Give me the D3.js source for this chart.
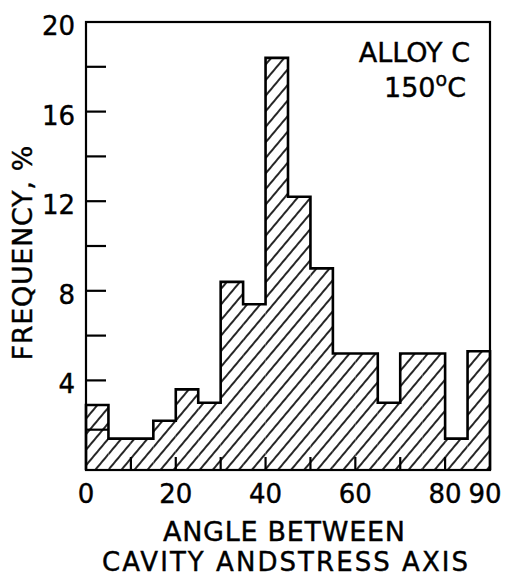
<!DOCTYPE html>
<html lang="en">
	<head>
		<meta charset="utf-8">
		<title> cavity angle histogram </title>
		<script src="https://d3js.org/d3.v7.min.js"></script>
		<style type="text/css">
			body { margin: 0; background: #fff; }
			text { font-family: "DejaVu Sans", sans-serif; fill: #000; stroke: #000; stroke-width: 0.4px; }
		</style>
	</head>

	<body>
		<script type="text/javascript">
			// window setup
			var w = 509
			var h = 579

			// data: 5 degree bins from 0 to 90
			var binStarts = [0, 5, 10, 15, 20, 25, 30, 35, 40, 45, 50, 55, 60, 65, 70, 75, 80, 85]
			var frequency = [2.9, 1.4, 1.4, 2.2, 3.6, 3.0, 8.4, 7.4, 18.4, 12.2, 9.0, 5.2, 5.2, 3.0, 5.2, 5.2, 1.4, 5.3]
			var innerSplit = [1.8, null, null, null, null, null, null, null, null, null, null, null, null, null, null, null, null, null]
			var binWidth = 5

			var yTicks = [2, 4, 6, 8, 10, 12, 14, 16, 18]
			var yLabels = [4, 8, 12, 16, 20]
			var xTicks = [10, 20, 30, 40, 50, 60, 70, 80]
			var xLabels = [0, 20, 40, 60, 80, 90]

			// scales
			var x = d3.scaleLinear().domain([0, 90]).range([86, 490])
			var y = d3.scaleLinear().domain([0, 20]).range([470, 22])

			var svg = d3.select("body")
						.append("svg")
						.attr("width", w)
						.attr("height", h)

			// hatch pattern, lines like "/"
			var defs = svg.append("defs")
			var pat = defs.append("pattern")
						.attr("id", "hatch")
						.attr("patternUnits", "userSpaceOnUse")
						.attr("width", 10)
						.attr("height", 10)
						.attr("patternTransform", "rotate(40)")
			pat.append("rect").attr("width", 10).attr("height", 10).attr("fill", "#fff")
			pat.append("line")
				.attr("x1", 5).attr("y1", -2).attr("x2", 5).attr("y2", 12)
				.attr("stroke", "#000")
				.attr("stroke-width", 1.7)

			// y ticks (inward, under the bars)
			svg.selectAll(".ytick")
				.data(yTicks)
				.enter()
				.append("line")
				.attr("x1", x(0)).attr("x2", x(0) + 20)
				.attr("y1", function(d) { return y(d) })
				.attr("y2", function(d) { return y(d) })
				.attr("stroke", "#000")
				.attr("stroke-width", 2.2)

			// bars filled with hatch
			svg.selectAll(".bar")
				.data(binStarts)
				.enter()
				.append("rect")
				.attr("x", function(d) { return x(d) })
				.attr("width", function(d) { return x(d + binWidth) - x(d) })
				.attr("y", function(d, i) { return y(frequency[i]) })
				.attr("height", function(d, i) { return y(0) - y(frequency[i]) })
				.attr("fill", "url(#hatch)")

			// outline as a step line
			var pts = [[0, 0]]
			binStarts.forEach(function(d, i) { pts.push([d, frequency[i]]) })
			pts.push([90, frequency[frequency.length - 1]])
			pts.push([90, 0])

			var step = d3.line()
						.x(function(d) { return x(d[0]) })
						.y(function(d) { return y(d[1]) })
						.curve(d3.curveStepAfter)

			svg.append("path")
				.attr("d", step(pts))
				.attr("fill", "none")
				.attr("stroke", "#000")
				.attr("stroke-width", 2.6)

			// split line inside first bin
			svg.selectAll(".split")
				.data(binStarts.filter(function(d, i) { return innerSplit[i] != null }))
				.enter()
				.append("line")
				.attr("x1", function(d) { return x(d) })
				.attr("x2", function(d) { return x(d + binWidth) })
				.attr("y1", function(d) { return y(innerSplit[binStarts.indexOf(d)]) })
				.attr("y2", function(d) { return y(innerSplit[binStarts.indexOf(d)]) })
				.attr("stroke", "#000")
				.attr("stroke-width", 2.2)

			// x ticks (upward, on top of hatch)
			svg.selectAll(".xtick")
				.data(xTicks)
				.enter()
				.append("line")
				.attr("x1", function(d) { return x(d) })
				.attr("x2", function(d) { return x(d) })
				.attr("y1", y(0)).attr("y2", y(0) - 13)
				.attr("stroke", "#000")
				.attr("stroke-width", 2.2)

			// frame
			svg.append("rect")
				.attr("x", x(0)).attr("y", y(20))
				.attr("width", x(90) - x(0))
				.attr("height", y(0) - y(20))
				.attr("fill", "none")
				.attr("stroke", "#000")
				.attr("stroke-width", 2.2)

			// tick labels
			svg.selectAll(".ylab")
				.data(yLabels)
				.enter()
				.append("text")
				.attr("x", 75)
				.attr("y", function(d) { return y(d) + 13 })
				.attr("text-anchor", "end")
				.style("font-size", "26px")
				.text(function(d) { return d })

			svg.selectAll(".xlab")
				.data(xLabels)
				.enter()
				.append("text")
				.attr("x", function(d) { return x(d) })
				.attr("dx", function(d) { return d == 90 ? -5 : 0 })
				.attr("y", 503)
				.attr("text-anchor", "middle")
				.style("font-size", "26px")
				.text(function(d) { return d })

			// axis titles
			svg.append("text")
				.attr("transform", "translate(32,253) rotate(-90)")
				.attr("text-anchor", "middle")
				.attr("textLength", 215)
				.attr("lengthAdjust", "spacing")
				.style("font-size", "27px")
				.text("FREQUENCY, %")

			svg.append("text")
				.attr("x", 284).attr("y", 541)
				.attr("text-anchor", "middle")
				.attr("textLength", 242)
				.attr("lengthAdjust", "spacing")
				.style("font-size", "27px")
				.text("ANGLE BETWEEN")

			svg.append("text")
				.attr("x", 285).attr("y", 571)
				.attr("text-anchor", "middle")
				.attr("textLength", 366)
				.attr("lengthAdjust", "spacing")
				.style("font-size", "26px")
				.text("CAVITY ANDSTRESS AXIS")

			// annotation
			svg.append("text")
				.attr("x", 470).attr("y", 62)
				.attr("text-anchor", "end")
				.style("font-size", "27px")
				.text("ALLOY C")

			var t2 = svg.append("text")
				.attr("x", 466).attr("y", 97)
				.attr("text-anchor", "end")
				.style("font-size", "27px")
			t2.append("tspan").text("150")
			t2.append("tspan").attr("dy", -11).style("font-size", "19px").text("o")
			t2.append("tspan").attr("dy", 11).text("C")
		</script>
	</body>
</html>
